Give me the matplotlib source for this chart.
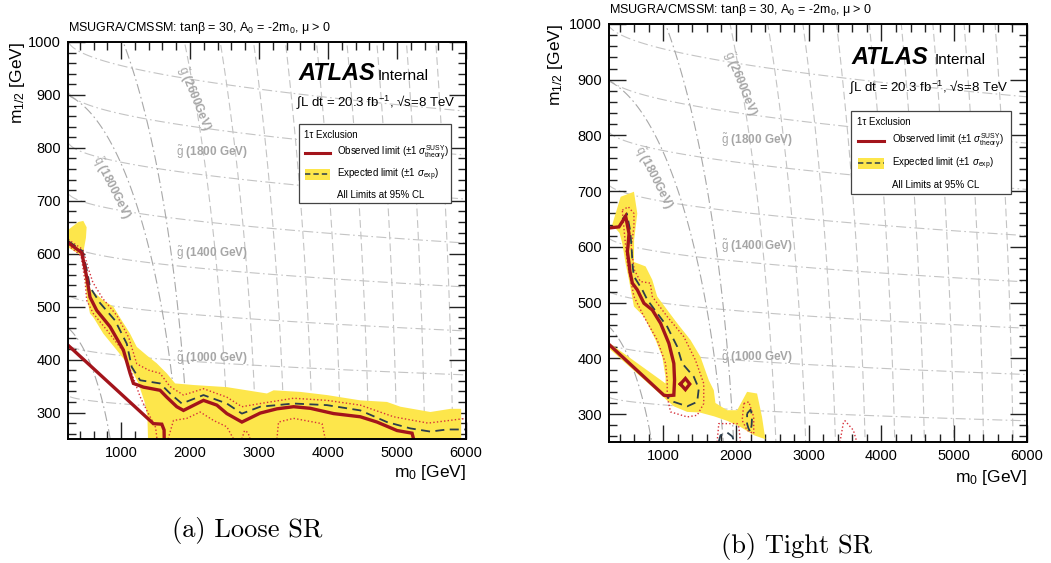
import numpy as np
import matplotlib
matplotlib.use("Agg")
import matplotlib.pyplot as plt
from matplotlib.patches import Rectangle

plt.rcParams['font.family'] = ['Liberation Sans', 'DejaVu Sans']
plt.rcParams['mathtext.fontset'] = 'custom'
plt.rcParams['mathtext.rm'] = 'Liberation Sans'
plt.rcParams['mathtext.it'] = 'Liberation Sans:italic'
plt.rcParams['mathtext.bf'] = 'Liberation Sans:bold'

# ---------------------------------------------------------------- data
# Loose SR
LOOSE_OBS_M0 = [232, 429, 501, 549, 646, 840, 1033, 1130, 1178, 1323, 1565, 1662, 1807, 1904,
                2194, 2388, 2533, 2751, 3017, 3259, 3500, 3742, 4081, 4468, 4710, 5000, 5218, 5240]
LOOSE_OBS_M12 = [621, 602, 556, 518, 493, 462, 418, 374, 355, 348, 342, 329, 311, 304,
                 323, 314, 298, 282, 299, 307, 311, 308, 298, 292, 282, 266, 261, 250]
LOOSE_OBS2_M0 = [232, 1468, 1590, 1623, 1625]
LOOSE_OBS2_M12 = [427, 279, 278, 267, 250]

LOOSE_EXP_M0 = [232, 440, 510, 549, 694, 912, 1082, 1154, 1275, 1565, 1710, 1880, 2194, 2533,
                2751, 3017, 3500, 3984, 4468, 4854, 5194, 5484, 5726, 6000]
LOOSE_EXP_M12 = [624, 605, 565, 537, 507, 474, 430, 386, 361, 355, 336, 317, 333, 317,
                 298, 311, 317, 314, 304, 282, 270, 264, 268, 268]

LOOSE_TH_UP_M0 = [232, 445, 525, 590, 730, 940, 1110, 1227, 1400, 1565, 1710, 1904, 2194, 2533,
                  2751, 3017, 3500, 3984, 4468, 4950, 5450, 6000]
LOOSE_TH_UP_M12 = [627, 608, 572, 546, 516, 483, 442, 392, 380, 374, 349, 333, 345, 329,
                   311, 317, 327, 323, 314, 292, 280, 289]
LOOSE_TH_DN_M0 = [232, 420, 480, 501, 597, 791, 1017, 1154, 1275, 1372, 1420, 1500, 1520]
LOOSE_TH_DN_M12 = [616, 596, 545, 512, 487, 456, 418, 374, 330, 304, 292, 272, 250]
LOOSE_TH_ISL = [
    ([1681, 1759, 1953, 2146, 2340, 2533, 2630], [250, 285, 289, 301, 285, 273, 250]),
    ([2750, 2790, 2840, 2870], [250, 266, 262, 250]),
    ([3259, 3282, 3500, 3912, 3960], [250, 282, 289, 279, 250]),
]

LOOSE_BAND_M0 = [232, 300, 380, 452, 500, 490, 455, 470, 525, 597, 742, 887, 1009, 1130, 1227,
                 1372, 1517, 1662, 1783, 2049, 2533, 2823, 3114, 3210, 3597, 3984, 4468, 4854,
                 5049, 5484, 5774, 5930, 5930,
                 1390, 1381, 1348, 1251, 1130, 936, 742, 597, 549, 501, 470, 430, 232]
LOOSE_BAND_M12 = [645, 652, 660, 662, 650, 630, 605, 580, 537, 528, 512, 500, 474, 449, 424,
                  408, 393, 374, 355, 352, 348, 342, 336, 342, 339, 333, 323, 320,
                  311, 301, 307, 307, 250,
                  250, 292, 317, 355, 386, 418, 449, 480, 487, 519, 560, 596, 612]

# Tight SR
TIGHT_OBS_M0 = [255, 392, 484, 530, 515, 507, 529, 543, 576, 644, 735, 850, 964, 1078, 1146,
                1156, 1146, 1055, 1009, 255]
TIGHT_OBS_M12 = [634, 636, 655, 624, 600, 592, 572, 556, 535, 523, 499, 487, 463, 427, 391,
                 361, 334, 333, 334, 425]
TIGHT_OBS_ISL_M0 = [1237, 1305, 1365, 1305, 1237]
TIGHT_OBS_ISL_M12 = [354, 364, 354, 344, 354]

TIGHT_EXP_M0 = [440, 500, 545, 565, 580, 598, 713, 782, 918, 1055, 1193, 1261, 1421, 1489,
                1467, 1330, 1146, 1055]
TIGHT_EXP_M12 = [650, 660, 630, 600, 565, 547, 523, 505, 481, 457, 421, 391, 367, 346,
                 322, 314, 322, 331]
TIGHT_EXP_ISL = [
    ([2153, 2200, 2222, 2215, 2198, 2170, 2153, 2153], [301, 308, 298, 280, 268, 275, 283, 301]),
    ([1763, 1787, 1879, 1950, 1975], [250, 262, 267, 260, 250]),
]

TIGHT_TH_M0 = [438, 520, 598, 598, 560, 600, 685, 822, 850, 1055, 1283, 1443, 1557, 1557, 1467,
               1330, 1101, 1055, 1055, 1032, 918, 735, 598, 507, 470, 438]
TIGHT_TH_M12 = [666, 672, 660, 636, 600, 560, 538, 535, 511, 475, 439, 397, 355, 319, 298,
                295, 304, 331, 361, 391, 433, 475, 511, 571, 620, 666]
TIGHT_TH_ISL = [
    ([2108, 2176, 2244, 2244, 2153, 2085, 2108], [319, 322, 295, 265, 271, 289, 319]),
    ([1741, 1764, 2016, 2039, 2062], [250, 283, 283, 277, 250]),
    ([3430, 3478, 3500, 3614, 3661], [250, 286, 288, 271, 250]),
]

TIGHT_BAND_M0 = [300, 415, 598, 644, 600, 598, 758, 850, 918, 1055, 1193, 1375, 1512, 1626,
                 1695, 1718, 1879, 2016, 2153, 2290, 2358, 2404,
                 2250, 2050, 1880, 1700, 1500, 1330, 1146, 1040, 1009, 255, 255,
                 1032, 1032, 987, 895, 735, 598, 529, 484, 438, 400, 300]
TIGHT_BAND_M12 = [640, 690, 699, 660, 612, 573, 565, 541, 511, 487, 463, 433, 403, 361,
                  343, 320, 307, 307, 340, 337, 295, 255,
                  262, 278, 288, 296, 303, 304, 314, 326, 330, 418, 428,
                  355, 367, 403, 433, 475, 493, 541, 570, 606, 625, 640]

# reference sparticle-mass contours
GLUINO_LEVELS = [800, 1000, 1200, 1400, 1600, 1800, 2000, 2200]
SQUARK_LEVELS = [2585, 2990, 3395, 3800, 4205, 4610, 5015, 5420, 5825]
SQUARK_LOW_LEVELS = [992, 1900]
GUIDE_LABELS = [
    (r"$\tilde{\rm g}$ (1800 GeV)", 1800, 792, 0),
    (r"$\tilde{\rm g}$ (1400 GeV)", 1800, 601, 0),
    (r"$\tilde{\rm g}$ (1000 GeV)", 1800, 402, 0),
    (r"$\tilde{\rm q}$ (1800GeV)", 860, 724, -63),
    (r"$\tilde{\rm g}$ (2600GeV)", 2055, 893, -68),
]

XTICKS = [1000, 2000, 3000, 4000, 5000, 6000]
YTICKS = [300, 400, 500, 600, 700, 800, 900, 1000]

TITLE = "MSUGRA/CMSSM: tan\u03b2 = 30, A$_0$ = -2m$_0$, \u03bc > 0"

YELLOW = '#fde64b'
OBS_RED = '#a3141b'
EXP_DARK = '#2c3d4c'
TH_RED = '#d6303a'
GUIDE = '#c4c4c4'
GUIDE_DARK = '#a8a8a8'


def gluino_mass(m0, m12):
    r = 0.135 * np.sqrt(np.clip((m0 - 230.0) / 5770.0, 0, None))
    return (m12 / (1 - r) + 51.0) / 0.48


def draw_panel(ax, xmin, band, obs_list, exp_list, th_list):
    ax.set_xlim(xmin, 6000)
    ax.set_ylim(250, 1000)

    # mass contours in the background
    gx = np.linspace(0, 6200, 400)
    gy = np.linspace(200, 1100, 300)
    X, Y = np.meshgrid(gx, gy)
    dashdot = [(0, (9, 3, 1.5, 3))]
    ax.contour(X, Y, gluino_mass(X, Y), levels=GLUINO_LEVELS, colors=GUIDE,
               linewidths=0.8, linestyles=dashdot, zorder=1)
    ax.contour(X, Y, np.sqrt(X**2 + 3.0 * Y**2), levels=SQUARK_LEVELS, colors=GUIDE,
               linewidths=0.8, linestyles=[(0, (7, 3.5))], zorder=1)
    ax.contour(X, Y, np.sqrt(X**2 + 3.0 * Y**2), levels=[2015], colors=GUIDE_DARK,
               linewidths=0.8, linestyles=dashdot, zorder=1)
    ax.contour(X, Y, np.sqrt(X**2 + 4.4 * Y**2), levels=SQUARK_LOW_LEVELS, colors=GUIDE_DARK,
               linewidths=0.8, linestyles=dashdot, zorder=1)
    for txt, x, y, rot in GUIDE_LABELS:
        ax.text(x, y, txt, color='#a6a6a6', fontsize=8.5, fontweight='bold',
                ha='left' if rot == 0 else 'center', va='center', rotation=rot,
                rotation_mode='anchor', zorder=1.5)

    ax.fill(band[0], band[1], color=YELLOW, lw=0, zorder=2)
    for m0, m12 in th_list:
        ax.plot(m0, m12, color=TH_RED, lw=1.0, ls=(0, (1, 1.6)), zorder=3)
    for m0, m12 in exp_list:
        ax.plot(m0, m12, color=EXP_DARK, lw=1.3, ls=(0, (5, 3)), zorder=4)
    for m0, m12 in obs_list:
        ax.plot(m0, m12, color=OBS_RED, lw=2.4, zorder=5, solid_joinstyle='miter')

    ax.set_xticks(XTICKS)
    ax.set_yticks(YTICKS)
    ax.set_xticks(np.arange(400, 6001, 200), minor=True)
    ax.set_yticks(np.arange(260, 1000, 20), minor=True)
    ax.tick_params(which='both', direction='in', top=True, right=True, width=1.0,
                   labelsize=10.5, color='#222222')
    ax.tick_params(which='major', length=12, pad=5)
    ax.tick_params(which='minor', length=6)
    for s in ax.spines.values():
        s.set_linewidth(1.4)
        s.set_zorder(8)

    ax.text(0.0, 1.014, TITLE, transform=ax.transAxes, fontsize=9, ha='left', va='bottom')
    ax.text(1.0, -0.085, r"m$_0$ [GeV]", transform=ax.transAxes, fontsize=12.5,
            ha='right', va='center')
    ax.text(-0.128, 1.0, r"m$_{1/2}$ [GeV]", transform=ax.transAxes, fontsize=12.5,
            ha='center', va='top', rotation=90)

    # experiment label
    ax.text(0.580, 0.904, "ATLAS", transform=ax.transAxes, fontsize=17, fontweight='bold',
            style='italic', ha='left', va='baseline', zorder=9)
    ax.text(0.778, 0.904, "Internal", transform=ax.transAxes, fontsize=11,
            ha='left', va='baseline', zorder=9)
    ax.text(0.573, 0.849, "\u222bL dt = 20.3 fb$^{-1}$, \u221as=8 TeV", transform=ax.transAxes,
            fontsize=9.5, ha='left', va='center', zorder=9)

    # legend box
    ax.add_patch(Rectangle((0.580, 0.594), 0.382, 0.199, transform=ax.transAxes,
                           facecolor='white', edgecolor='#444444', lw=0.9, zorder=9))
    ax.text(0.593, 0.766, "1\u03c4 Exclusion", transform=ax.transAxes, fontsize=7,
            ha='left', va='center', zorder=10)
    ax.plot([0.595, 0.658], [0.720, 0.720], transform=ax.transAxes, color=OBS_RED,
            lw=2.2, zorder=10)
    ax.text(0.677, 0.720, r"Observed limit ($\pm$1 $\sigma^{\rm SUSY}_{\rm theory}$)",
            transform=ax.transAxes, fontsize=7, ha='left', va='center', zorder=10)
    ax.add_patch(Rectangle((0.595, 0.653), 0.063, 0.027, transform=ax.transAxes,
                           facecolor=YELLOW, edgecolor='none', zorder=10))
    ax.plot([0.595, 0.658], [0.6665, 0.6665], transform=ax.transAxes, color=EXP_DARK,
            lw=1.1, ls=(0, (3.5, 2)), zorder=11)
    ax.text(0.677, 0.6665, r"Expected limit ($\pm$1 $\sigma_{\rm exp}$)",
            transform=ax.transAxes, fontsize=7, ha='left', va='center', zorder=10)
    ax.text(0.677, 0.615, "All Limits at 95% CL", transform=ax.transAxes, fontsize=7,
            ha='left', va='center', zorder=10)


fig = plt.figure(figsize=(10.51, 5.63), dpi=100)
ax1 = fig.add_axes([68 / 1051, 1 - 439 / 563, 398 / 1051, 397 / 563])
ax2 = fig.add_axes([609 / 1051, 1 - 442 / 563, 418 / 1051, 418 / 563])

draw_panel(ax1, 230, (LOOSE_BAND_M0, LOOSE_BAND_M12),
           [(LOOSE_OBS_M0, LOOSE_OBS_M12), (LOOSE_OBS2_M0, LOOSE_OBS2_M12)],
           [(LOOSE_EXP_M0, LOOSE_EXP_M12)],
           [(LOOSE_TH_UP_M0, LOOSE_TH_UP_M12), (LOOSE_TH_DN_M0, LOOSE_TH_DN_M12)] + LOOSE_TH_ISL)
draw_panel(ax2, 255, (TIGHT_BAND_M0, TIGHT_BAND_M12),
           [(TIGHT_OBS_M0, TIGHT_OBS_M12), (TIGHT_OBS_ISL_M0, TIGHT_OBS_ISL_M12)],
           [(TIGHT_EXP_M0, TIGHT_EXP_M12)] + TIGHT_EXP_ISL,
           [(TIGHT_TH_M0, TIGHT_TH_M12)] + TIGHT_TH_ISL)

fig.text(247 / 1051, 1 - 530 / 563, "(a) Loose SR", family='cmr10', fontsize=19,
         ha='center', va='center')
fig.text(797 / 1051, 1 - 546 / 563, "(b) Tight SR", family='cmr10', fontsize=19,
         ha='center', va='center')

fig.savefig("out.png", dpi=100)
